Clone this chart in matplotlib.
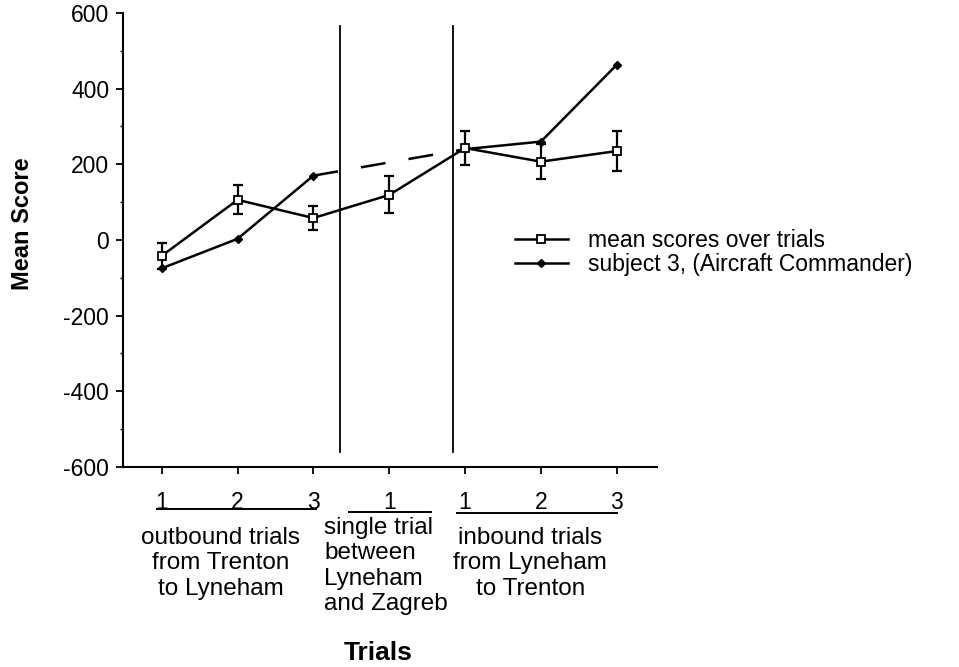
import numpy as np
import matplotlib as mpl
import matplotlib.pyplot as plt
import matplotlib.transforms as mtransforms

mpl.use("agg")
plt.rcParams["font.family"] = ["Liberation Sans", "DejaVu Sans"]
plt.rcParams["axes.unicode_minus"] = False

# data
trial = np.arange(1, 8)
tick_labels = ["1", "2", "3", "1", "1", "2", "3"]
mean_score = [-42, 106, 58, 119, 243, 207, 235]
mean_err = [35, 38, 31, 49, 46, 46, 54]
subject3 = [-75, 3, 170, np.nan, 240, 260, 463]
groups = [(1, 3), (4, 4), (5, 7)]
group_text = [
    "outbound trials\nfrom Trenton\nto Lyneham",
    "single trial\nbetween\nLyneham\nand Zagreb",
    "inbound trials\nfrom Lyneham\nto Trenton",
]
dividers = [3.35, 4.84]

fig = plt.figure(figsize=(9.59, 6.67), dpi=100)
ax = fig.add_axes([0.1283, 0.3, 0.5567, 0.6805])

LW = 1.8
# mean scores with error bars
ax.errorbar(trial, mean_score, yerr=mean_err, fmt="none", ecolor="black",
            capsize=3.5, elinewidth=1.6, capthick=1.6, zorder=3)
h_mean, = ax.plot(trial, mean_score, color="black", lw=LW, marker="s", ms=5.5,
                  mfc="white", mec="black", mew=1.3, zorder=4,
                  label="mean scores over trials")

# subject 3, gap at trial 4 bridged by a dashed line
s = np.array(subject3, dtype=float)
h_subj, = ax.plot(trial, s, color="black", lw=LW, marker="D", ms=4.5,
                  label="subject 3, (Aircraft Commander)", zorder=3)
gap = np.where(np.isnan(s))[0]
for g in gap:
    ax.plot([trial[g - 1], trial[g + 1]], [s[g - 1], s[g + 1]],
            color="black", lw=LW, dashes=[10, 9.3], zorder=2)

for d in dividers:
    ax.plot([d, d], [565, -560], color="black", lw=1.3, zorder=2)

ax.set_xlim(0.49, 7.53)
ax.set_ylim(-600, 600)
ax.set_yticks(np.arange(-600, 601, 200))
ax.set_yticks(np.arange(-600, 601, 100), minor=True)
ax.set_xticks(trial)
ax.set_xticklabels(tick_labels)
ax.tick_params(axis="both", labelsize=16.5, width=1.3, length=5, direction="out")
ax.tick_params(axis="x", pad=12.5)
ax.tick_params(axis="y", pad=5)
ax.tick_params(axis="y", which="minor", length=2.5, width=1)

for side in ["top", "right"]:
    ax.spines[side].set_visible(False)
for side in ["left", "bottom"]:
    ax.spines[side].set_linewidth(1.5)

# group underlines and labels below the axis
trans = mtransforms.blended_transform_factory(ax.transData, ax.transAxes)
under = [(-0.06, 0.04, -0.092), (-0.53, 0.55, -0.099), (-0.10, 0.01, -0.101)]
for (a, b), (l, r, yy) in zip(groups, under):
    ax.plot([a + l, b + r], [yy, yy], color="black", lw=1.4,
            transform=trans, clip_on=False)

ax.text(1.78, -0.132, group_text[0], transform=trans, ha="center", va="top",
        fontsize=17.5, linespacing=1.2)
ax.text(3.14, -0.11, group_text[1], transform=trans, ha="left", va="top",
        fontsize=17.5, linespacing=1.2)
ax.text(5.86, -0.132, group_text[2], transform=trans, ha="center", va="top",
        fontsize=17.5, linespacing=1.2)

fig.text(0.023, 0.665, "Mean Score", fontsize=17, fontweight="bold",
         rotation=90, ha="center", va="center")
fig.text(0.394, 0.0105, "Trials", fontsize=19, fontweight="bold",
         ha="center", va="baseline")

ax.legend(handles=[h_mean, h_subj], loc="center left",
          bbox_to_anchor=(0.537, 0.6214), bbox_transform=fig.transFigure,
          frameon=False, fontsize=16.5, borderpad=0, borderaxespad=0,
          handlelength=2.3, handletextpad=0.9, labelspacing=0.05)

plt.savefig("out.png", dpi=100)
